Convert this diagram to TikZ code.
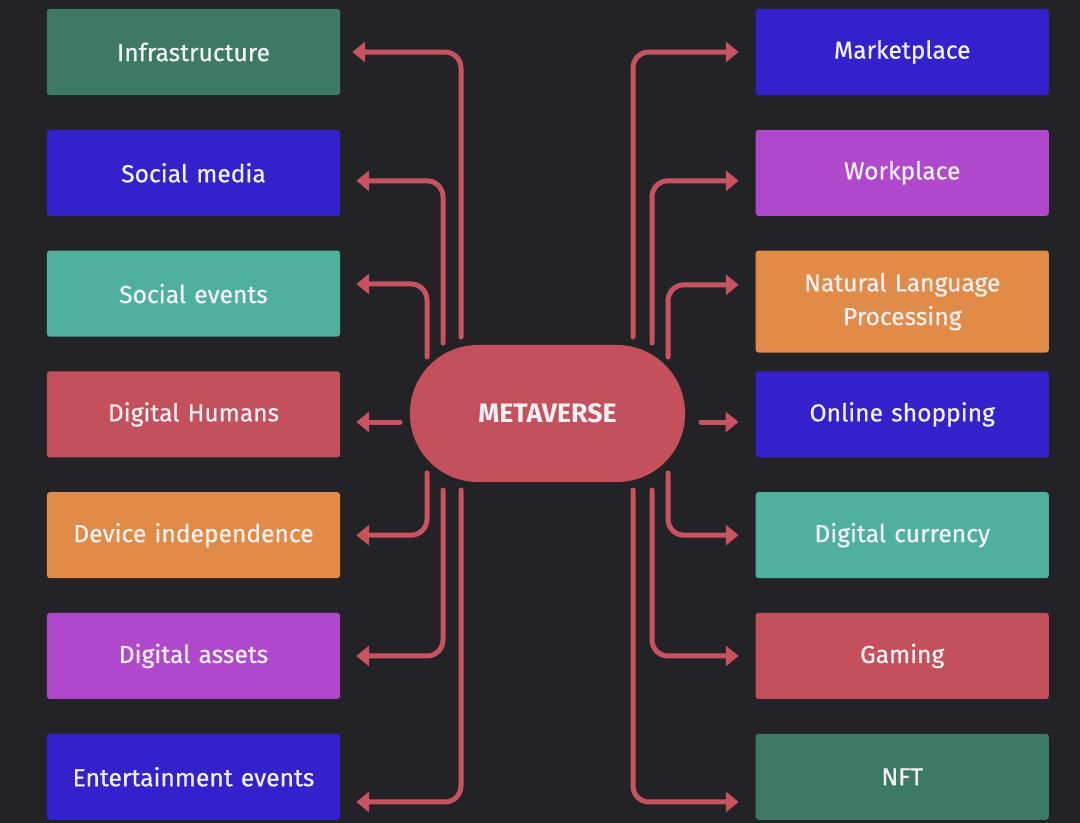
\documentclass[tikz,border=0pt]{standalone}
\usepackage{fontspec}
\setmainfont{Fira Sans}
\newfontfamily\medfont{Fira Sans}[FakeBold=0.6]
\usepackage{tikz}
\usetikzlibrary{arrows.meta,calc,positioning}
\definecolor{fondo}{HTML}{232327}
\definecolor{enlace}{HTML}{C9525F}
\definecolor{verdeosc}{HTML}{3D7A66}
\definecolor{azulint}{HTML}{3322CC}
\definecolor{turquesa}{HTML}{4FB0A0}
\definecolor{rojizo}{HTML}{C4505C}
\definecolor{naranja}{HTML}{E08B47}
\definecolor{violeta}{HTML}{B048CC}
\definecolor{blanco}{HTML}{F2F0F2}
\tikzset{
  tema/.style={
    rounded corners=2pt,
    draw=none,
    align=center,
    text width=7cm,
    minimum width=7.325cm,
    minimum height=2.15cm,
    inner sep=0pt,
    text=blanco,
    font=\medfont\fontsize{17.5}{24}\selectfont
  },
  centro/.style={
    rounded corners=1.7cm,
    fill=rojizo,
    minimum width=6.875cm,
    minimum height=3.425cm,
    inner sep=0pt,
    text=blanco,
    font=\fontsize{19}{22}\selectfont\bfseries
  },
  arrow/.style={
    -{Triangle[width=0.5cm,length=0.32cm]},
    line width=0.125cm,
    line cap=round,
    rounded corners=0.4cm,
    enlace
  }
}
\begin{document}
\begin{tikzpicture}[x=0.025cm, y=-0.025cm, node distance=.855cm and 10.375cm]
\fill[fondo] (0,0) rectangle (1080,823);

\node[centro] (meta) at (547.5,413.5) {METAVERSE};

\node[tema, fill=verdeosc] (infra) at (193.5,52) {Infrastructure};
\node[tema, fill=azulint, below=of infra] (socmed) {Social media};
\node[tema, fill=turquesa, below=of socmed] (socev) {Social events};
\node[tema, fill=rojizo, below=of socev] (dighum) {Digital Humans};
\node[tema, fill=naranja, below=of dighum] (device) {Device independence};
\node[tema, fill=violeta, below=of device] (digass) {Digital assets};
\node[tema, fill=azulint, below=of digass] (entev) {Entertainment events};

\node[tema, fill=azulint, right=of infra] (market) {Marketplace};
\node[tema, fill=violeta, right=of socmed] (work) {Workplace};
\node[tema, fill=naranja, below=of work, minimum height=2.55cm] (nlp) {Natural Language\\Processing};
\node[tema, fill=azulint, right=of dighum] (shop) {Online shopping};
\node[tema, fill=turquesa, right=of device] (curr) {Digital currency};
\node[tema, fill=rojizo, right=of digass] (gaming) {Gaming};
\node[tema, fill=verdeosc, right=of entev] (nft) {NFT};

% salidas junto al centro
\coordinate (i1) at (461,337);
\coordinate (i2) at (443,343);
\coordinate (i3) at (427,357);
\coordinate (i4) at (400,422);
\coordinate (i5) at (427,473);
\coordinate (i6) at (443,490);
\coordinate (i7) at (461,490);
\coordinate (d1) at (633,337);
\coordinate (d2) at (652,343);
\coordinate (d3) at (668,357);
\coordinate (d4) at (701,422);
\coordinate (d5) at (668,473);
\coordinate (d6) at (652,490);
\coordinate (d7) at (633,490);

\draw[arrow] (i1) |- ([xshift=0.3cm]infra.east);
\draw[arrow] (i2) |- ([xshift=0.4cm,yshift=-0.2cm]socmed.east);
\draw[arrow] (i3) |- ([xshift=0.4cm,yshift=0.24cm]socev.east);
\draw[arrow] (i4) -- ($(i4 -| dighum.east)+(16,0)$);
\draw[arrow] (i5) |- ([xshift=0.4cm]device.east);
\draw[arrow] (i6) |- ([xshift=0.4cm]digass.east);
\draw[arrow] (i7) |- ([xshift=0.4cm,yshift=-0.63cm]entev.east);

\draw[arrow] (d1) |- ([xshift=-0.42cm]market.west);
\draw[arrow] (d2) |- ([xshift=-0.42cm,yshift=-0.2cm]work.west);
\draw[arrow] (d3) |- ([xshift=-0.42cm,yshift=0.42cm]nlp.west);
\draw[arrow] (d4) -- ($(d4 -| shop.west)+(-17,0)$);
\draw[arrow] (d5) |- ([xshift=-0.42cm]curr.west);
\draw[arrow] (d6) |- ([xshift=-0.42cm]gaming.west);
\draw[arrow] (d7) |- ([xshift=-0.42cm,yshift=-0.63cm]nft.west);
\end{tikzpicture}
\end{document}
